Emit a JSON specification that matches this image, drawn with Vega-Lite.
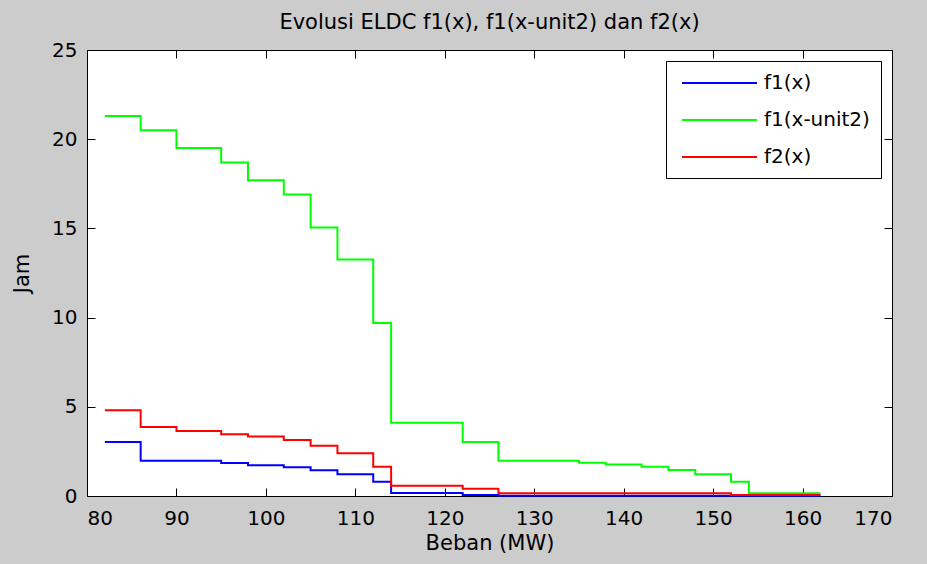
{
  "$schema": "https://vega.github.io/schema/vega-lite/v6.json",
  "autosize": {"type": "none"},
  "width": 805,
  "height": 446,
  "padding": {"left": 87, "top": 50, "right": 35, "bottom": 68},
  "background": "#cccccc",
  "title": {
    "text": "Evolusi ELDC f1(x), f1(x-unit2) dan f2(x)",
    "font": "DejaVu Sans",
    "fontSize": 21,
    "fontWeight": "normal",
    "color": "#000000",
    "anchor": "middle",
    "offset": 7
  },
  "data": {
    "values": [
      {"beban": 82, "jam": 3.03, "kurva": "f1(x)"},
      {"beban": 86, "jam": 1.98, "kurva": "f1(x)"},
      {"beban": 95, "jam": 1.85, "kurva": "f1(x)"},
      {"beban": 98, "jam": 1.72, "kurva": "f1(x)"},
      {"beban": 102, "jam": 1.61, "kurva": "f1(x)"},
      {"beban": 105, "jam": 1.44, "kurva": "f1(x)"},
      {"beban": 108, "jam": 1.22, "kurva": "f1(x)"},
      {"beban": 112, "jam": 0.8, "kurva": "f1(x)"},
      {"beban": 114, "jam": 0.17, "kurva": "f1(x)"},
      {"beban": 122, "jam": 0.05, "kurva": "f1(x)"},
      {"beban": 126, "jam": 0.01, "kurva": "f1(x)"},
      {"beban": 162, "jam": 0.01, "kurva": "f1(x)"},

      {"beban": 82, "jam": 21.3, "kurva": "f1(x-unit2)"},
      {"beban": 86, "jam": 20.5, "kurva": "f1(x-unit2)"},
      {"beban": 90, "jam": 19.5, "kurva": "f1(x-unit2)"},
      {"beban": 95, "jam": 18.7, "kurva": "f1(x-unit2)"},
      {"beban": 98, "jam": 17.7, "kurva": "f1(x-unit2)"},
      {"beban": 102, "jam": 16.9, "kurva": "f1(x-unit2)"},
      {"beban": 105, "jam": 15.05, "kurva": "f1(x-unit2)"},
      {"beban": 108, "jam": 13.25, "kurva": "f1(x-unit2)"},
      {"beban": 112, "jam": 9.7, "kurva": "f1(x-unit2)"},
      {"beban": 114, "jam": 4.1, "kurva": "f1(x-unit2)"},
      {"beban": 122, "jam": 3.03, "kurva": "f1(x-unit2)"},
      {"beban": 126, "jam": 1.98, "kurva": "f1(x-unit2)"},
      {"beban": 135, "jam": 1.87, "kurva": "f1(x-unit2)"},
      {"beban": 138, "jam": 1.76, "kurva": "f1(x-unit2)"},
      {"beban": 142, "jam": 1.64, "kurva": "f1(x-unit2)"},
      {"beban": 145, "jam": 1.46, "kurva": "f1(x-unit2)"},
      {"beban": 148, "jam": 1.22, "kurva": "f1(x-unit2)"},
      {"beban": 152, "jam": 0.8, "kurva": "f1(x-unit2)"},
      {"beban": 154, "jam": 0.15, "kurva": "f1(x-unit2)"},
      {"beban": 162, "jam": 0.15, "kurva": "f1(x-unit2)"},

      {"beban": 82, "jam": 4.8, "kurva": "f2(x)"},
      {"beban": 86, "jam": 3.87, "kurva": "f2(x)"},
      {"beban": 90, "jam": 3.64, "kurva": "f2(x)"},
      {"beban": 95, "jam": 3.46, "kurva": "f2(x)"},
      {"beban": 98, "jam": 3.33, "kurva": "f2(x)"},
      {"beban": 102, "jam": 3.14, "kurva": "f2(x)"},
      {"beban": 105, "jam": 2.82, "kurva": "f2(x)"},
      {"beban": 108, "jam": 2.39, "kurva": "f2(x)"},
      {"beban": 112, "jam": 1.64, "kurva": "f2(x)"},
      {"beban": 114, "jam": 0.58, "kurva": "f2(x)"},
      {"beban": 122, "jam": 0.41, "kurva": "f2(x)"},
      {"beban": 126, "jam": 0.15, "kurva": "f2(x)"},
      {"beban": 152, "jam": 0.06, "kurva": "f2(x)"},
      {"beban": 162, "jam": 0.06, "kurva": "f2(x)"}
    ]
  },
  "layer": [
    {
      "mark": {"type": "line", "interpolate": "step-after", "strokeWidth": 2},
      "encoding": {
        "x": {
          "field": "beban",
          "type": "quantitative",
          "scale": {"domain": [80, 170], "nice": false, "zero": false},
          "axis": {"title": "Beban (MW)", "values": [80, 90, 100, 110, 120, 130, 140, 150, 160, 170], "orient": "bottom"}
        },
        "y": {
          "field": "jam",
          "type": "quantitative",
          "scale": {"domain": [0, 25], "nice": false},
          "axis": {"title": "Jam", "values": [0, 5, 10, 15, 20, 25], "orient": "left"}
        },
        "color": {
          "field": "kurva",
          "type": "nominal",
          "scale": {
            "domain": ["f1(x)", "f1(x-unit2)", "f2(x)"],
            "range": ["#0000ff", "#00ff00", "#ff0000"]
          },
          "legend": {
            "title": null,
            "orient": "top-right",
            "offset": 11,
            "strokeColor": "#000000",
            "fillColor": "#ffffff",
            "padding": 11,
            "symbolType": "M-1,0H6.5",
            "symbolSize": 400,
            "symbolOffset": 4,
            "symbolStrokeWidth": 2,
            "labelOffset": 61,
            "labelFont": "DejaVu Sans",
            "labelFontSize": 20,
            "labelColor": "#000000",
            "rowPadding": 16
          }
        }
      }
    },
    {
      "mark": {"type": "line", "opacity": 0},
      "encoding": {
        "x": {
          "field": "beban",
          "type": "quantitative",
          "axis": {"orient": "top", "labels": false, "title": null, "values": [80, 90, 100, 110, 120, 130, 140, 150, 160, 170]}
        },
        "y": {
          "field": "jam",
          "type": "quantitative",
          "axis": {"orient": "right", "labels": false, "title": null, "values": [0, 5, 10, 15, 20, 25]}
        },
        "detail": {"field": "kurva"}
      }
    }
  ],
  "resolve": {"axis": {"x": "independent", "y": "independent"}},
  "config": {
    "view": {"fill": "#ffffff", "stroke": null},
    "axis": {
      "grid": false,
      "domainColor": "#000000",
      "domainWidth": 1,
      "tickColor": "#000000",
      "tickSize": -8,
      "tickWidth": 1,
      "labelFont": "DejaVu Sans",
      "labelFontSize": 20,
      "labelColor": "#000000",
      "titleFont": "DejaVu Sans",
      "titleFontSize": 21,
      "titleFontWeight": "normal",
      "titleColor": "#000000"
    },
    "axisX": {"labelPadding": 20, "titlePadding": 4},
    "axisY": {"labelPadding": 18, "titlePadding": 19}
  }
}
